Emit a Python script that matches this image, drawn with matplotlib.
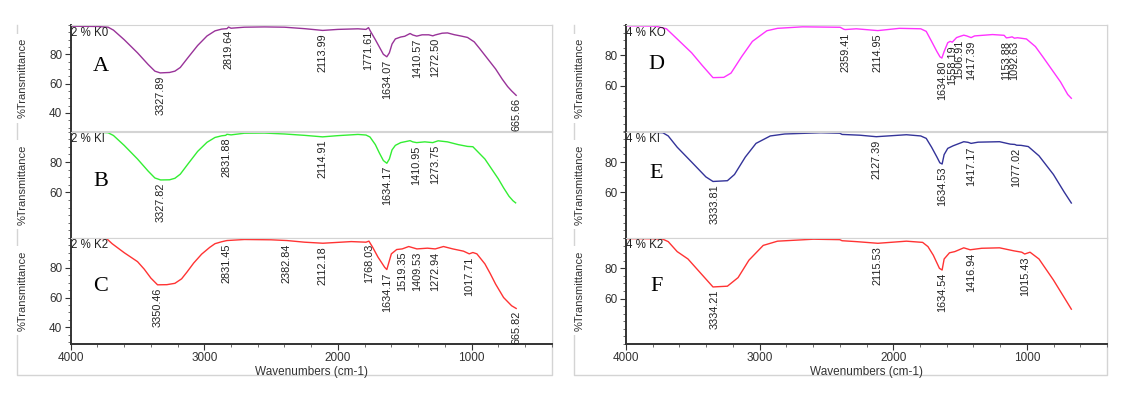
import numpy as np
import matplotlib.pyplot as plt
from matplotlib.lines import Line2D

plt.rcParams['font.family'] = ['Liberation Sans', 'DejaVu Sans']

# ---- spectra (wavenumber cm-1, %T) ----
A_WN = [4000, 3800, 3720, 3680, 3600, 3500, 3420, 3370, 3330, 3260, 3220, 3180, 3120, 3050, 2980,
        2920, 2870, 2830, 2819, 2800, 2700, 2550, 2400, 2250, 2114, 2000, 1850, 1790, 1771, 1755,
        1720, 1690, 1660, 1634, 1615, 1595, 1570, 1530, 1500, 1460, 1440, 1410, 1370, 1320, 1290,
        1272, 1220, 1180, 1130, 1080, 1030, 980, 940, 880, 820, 770, 730, 700, 666]
A_T = [99.2, 99.0, 98.5, 96.5, 90, 81, 73, 68.5, 67.3, 67.6, 68.5, 71, 78, 86, 92.5,
       96, 97.2, 97.5, 98.6, 97.8, 98.5, 98.7, 98.5, 97.5, 96.3, 97, 97.4, 97.0, 98.2, 95.5,
       90, 85, 80, 78.3, 81, 87, 90.5, 91.8, 92.3, 94.2, 93.2, 92.4, 93.3, 93.3, 92.6,
       93.2, 94.4, 94.6, 93.4, 92.5, 91.5, 88.5, 84, 77, 70, 63, 58, 55, 52]

B_WN = [4000, 3800, 3720, 3680, 3600, 3500, 3420, 3370, 3327, 3260, 3220, 3180, 3120, 3050, 2980,
        2920, 2870, 2840, 2831, 2800, 2700, 2550, 2400, 2250, 2115, 2000, 1850, 1790, 1760, 1720,
        1690, 1660, 1634, 1615, 1595, 1570, 1530, 1460, 1440, 1411, 1350, 1290, 1274, 1250, 1180,
        1100, 1030, 990, 950, 900, 850, 800, 760, 720, 690, 670]
B_T = [99.8, 99.7, 99.3, 97.5, 91, 82, 74, 69.5, 68.2, 68.3, 69.3, 72, 79, 87, 93,
       96.2, 97.3, 97.6, 98.3, 97.9, 99.0, 99.1, 98.5, 97.6, 96.6, 97.4, 98.2, 97.8, 96.5, 91.5,
       86, 81, 79.2, 82, 88, 91, 92.8, 94.1, 93.3, 92.8, 93.3, 92.8, 93.3, 94, 93.3,
       91.5, 90.3, 90.1, 86.5, 82, 75.5, 69, 63, 57.5, 54.5, 53.1]

C_WN = [4000, 3800, 3730, 3690, 3600, 3500, 3450, 3400, 3350, 3280, 3220, 3170, 3130, 3080, 3020,
        2960, 2920, 2870, 2831, 2700, 2500, 2382, 2250, 2112, 1900, 1790, 1768, 1740, 1700, 1650,
        1634, 1600, 1560, 1519, 1470, 1409, 1330, 1272, 1210, 1140, 1060, 1017, 990, 960, 900,
        860, 820, 760, 700, 666]
C_T = [99.7, 99.6, 99.3, 96, 90, 84, 79, 73, 68.5, 68.6, 69.5, 72.5, 77, 83, 89,
       93.5, 96, 97.3, 98.1, 98.8, 98.6, 98.1, 97, 96.3, 97.4, 97, 97.7, 93.6, 87, 80.2,
       78.7, 89.2, 92.1, 92.5, 94.1, 92.5, 93, 92.5, 94.1, 92.5, 91, 89.2, 90.1, 89.2, 82.5,
       76, 69, 60, 54.5, 52.7]

D_WN = [4000, 3800, 3777, 3697, 3617, 3509, 3429, 3349, 3268, 3214, 3134, 3054, 2946, 2866, 2678,
        2397, 2370, 2359, 2276, 2115, 1954, 1794, 1753, 1713, 1673, 1650, 1636, 1619, 1592, 1574,
        1558, 1526, 1507, 1472, 1450, 1417, 1391, 1257, 1170, 1153, 1130, 1110, 1093, 1070, 1003,
        936, 880, 828, 748, 694, 667]
D_T = [99.5, 99.3, 99.2, 97.5, 90.8, 81.7, 73.3, 65.3, 65.5, 68.3, 79.2, 89.2, 96.2, 97.8, 98.8,
       98.5, 97.2, 97.0, 97.5, 96.3, 97.8, 97.5, 95.8, 89.2, 82.5, 79, 78.2, 82.5, 88.3, 89.2,
       88.7, 91.7, 92.3, 93.3, 92.8, 91.7, 92.8, 93.7, 93.2, 91.5, 91.8, 92.2, 91.3, 91.6, 90.8,
       85.8, 79, 72.5, 62.5, 54.2, 51.7]

E_WN = [4000, 3800, 3724, 3684, 3617, 3509, 3402, 3349, 3241, 3188, 3107, 3027, 2920, 2812, 2544,
        2400, 2383, 2250, 2127, 1901, 1794, 1753, 1713, 1673, 1651, 1634, 1619, 1592, 1552, 1472,
        1440, 1417, 1365, 1204, 1123, 1090, 1077, 1043, 989, 909, 801, 721, 667]
E_T = [99.7, 99.6, 99.3, 97.2, 89.8, 80, 70.2, 67.2, 67.7, 71.8, 83.3, 92.3, 97.2, 98.5, 99.3,
       99.0, 98.2, 97.7, 96.7, 98, 97.2, 95.6, 89.8, 83.3, 79.5, 78.7, 84.9, 89, 90.7, 93.4,
       93.0, 92.3, 93.1, 93.4, 91.8, 91.6, 91.1, 91.0, 90.2, 84.1, 71.8, 60.3, 53]

F_WN = [4000, 3800, 3724, 3684, 3617, 3536, 3429, 3349, 3241, 3161, 3080, 2973, 2866, 2598, 2400,
        2383, 2276, 2115, 1901, 1780, 1740, 1700, 1654, 1634, 1619, 1579, 1539, 1472, 1424, 1338,
        1204, 1097, 1038, 1016, 976, 909, 801, 721, 667]
F_T = [99.7, 99.6, 99.3, 97.7, 91.1, 86.2, 75.6, 67.7, 68.2, 73.9, 85.4, 95.2, 98, 99.3, 99.0,
       98.3, 97.7, 96.6, 98, 97.2, 94.4, 88.7, 80, 78.9, 86.2, 90.3, 91.1, 93.6, 92.3, 93.3,
       93.6, 91.6, 90.7, 89.5, 90.7, 86.2, 72.3, 60.8, 53]

# ---- peak labels ----
A_PEAKS = [3327.89, 2819.64, 2113.99, 1771.61, 1634.07, 1410.57, 1272.50, 665.66]
B_PEAKS = [3327.82, 2831.88, 2114.91, 1634.17, 1410.95, 1273.75]
C_PEAKS = [3350.46, 2831.45, 2382.84, 2112.18, 1768.03, 1634.17, 1519.35, 1409.53,
           1272.94, 1017.71, 665.82]
D_PEAKS = [2359.41, 2114.95, 1634.80, 1558.19, 1506.91, 1417.39, 1153.88, 1092.63]
E_PEAKS = [3333.81, 2127.39, 1634.53, 1417.17, 1077.02]
F_PEAKS = [3334.21, 2115.53, 1634.54, 1416.94, 1015.43]

SAMPLES = ["2 % K0", "2 % KI", "2 % K2", "4 % KO", "4 % KI", "4 % K2"]
LETTERS = ["A", "B", "C", "D", "E", "F"]
COLORS = ["#993399", "#33ee33", "#ff3333", "#ff33ff", "#333399", "#ff3333"]
YLIMS = [(27.5, 100), (48.5, 99.5), (29, 100), (46.7, 100), (47, 100), (47.5, 100.3)]
YTICKS = [[40, 60, 80], [60, 80], [40, 60, 80], [60, 80], [60, 80], [60, 80]]
LETTER_Y = [0.61, 0.53, 0.54, 0.625, 0.61, 0.54]

W, H = 1133, 399
fig = plt.figure(figsize=(W / 100, H / 100), dpi=100)

spectra = [(A_WN, A_T, A_PEAKS), (B_WN, B_T, B_PEAKS), (C_WN, C_T, C_PEAKS),
           (D_WN, D_T, D_PEAKS), (E_WN, E_T, E_PEAKS), (F_WN, F_T, F_PEAKS)]

col_x = [70.7, 626]
label_x = [23, 580]
ax_w = 481
row_top = [25, 131.7, 237.7]
row_h = 106.2
frame_c = "#d4d4d4"

for i, (wn, tr, peaks) in enumerate(spectra):
    col, row = divmod(i, 3)
    x0 = col_x[col] / W
    y0 = 1 - (row_top[row] + row_h) / H
    ax = fig.add_axes([x0, y0, ax_w / W, row_h / H])
    ax.plot(wn, tr, color=COLORS[i], lw=1.0)
    ax.set_xlim(4000, 400)
    ax.set_ylim(*YLIMS[i])
    ax.set_yticks(YTICKS[i])
    ax.set_yticks(np.arange(30, 101, 5), minor=True)
    ax.set_xticks([4000, 3000, 2000, 1000])
    ax.set_xticks(np.arange(400, 4001, 200), minor=True)
    ax.tick_params(axis="y", which="major", length=4, labelsize=8.5, colors="#333333", pad=2)
    ax.tick_params(axis="y", which="minor", length=2, colors="#555555")
    for s in ["top", "right"]:
        ax.spines[s].set_color(frame_c)
    ax.spines["left"].set_color("#333333")
    ax.spines["left"].set_linewidth(1.4)
    if row < 2:
        ax.spines["bottom"].set_color(frame_c)
        ax.tick_params(axis="x", which="both", length=0, labelbottom=False)
    else:
        ax.spines["bottom"].set_color("#333333")
        ax.spines["bottom"].set_linewidth(1.4)
        ax.tick_params(axis="x", which="major", length=4, labelsize=8.5, colors="#333333", pad=2)
        ax.tick_params(axis="x", which="minor", length=2, colors="#555555")
        ax.set_xlabel("Wavenumbers (cm-1)", fontsize=8.5, color="#333333", labelpad=1)

    ax.text(0.0, 0.985, SAMPLES[i], transform=ax.transAxes, fontsize=8.3,
            ha="left", va="top", color="#222222")
    ax.text(0.063, LETTER_Y[i], LETTERS[i], transform=ax.transAxes, fontsize=16,
            family="Liberation Serif", ha="center", va="center")

    wr = np.array(wn[::-1], dtype=float)
    trr = np.array(tr[::-1], dtype=float)
    for p in peaks:
        yv = np.interp(p, wr, trr)
        ax.annotate(f"{p:.2f}", (p, yv), xytext=(0, -2), textcoords="offset points",
                    rotation=90, ha="center", va="top", fontsize=7.8, color="#222222",
                    annotation_clip=False)

    yc = 1 - (row_top[row] + row_h / 2) / H
    fig.text(label_x[col] / W, yc, "%Transmittance",
             rotation=90, ha="center", va="center", fontsize=8, color="#333333",
             bbox=dict(facecolor="white", edgecolor="none", pad=3))

# outer frames
for left, right in [(17, 551.7), (574, 1106.7)]:
    pts = [(left, 25), (left, 375), (right, 375), (right, 25)]
    xs = [p[0] / W for p in pts]
    ys = [1 - p[1] / H for p in pts]
    fig.add_artist(Line2D(xs, ys, color=frame_c, lw=1.0, zorder=-5))

fig.savefig("out.png", dpi=100)
